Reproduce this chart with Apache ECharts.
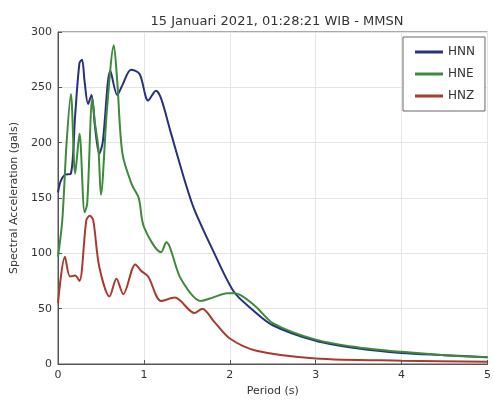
<!DOCTYPE html>
<html>
<head>
<meta charset="utf-8">
<script src="https://cdn.jsdelivr.net/npm/echarts@6/dist/echarts.min.js"></script>
<style>
  html, body { margin: 0; padding: 0; background: #fff; }
  #chart { width: 494px; height: 402px; }
</style>
</head>
<body>
<div id="chart"></div>
<script>
// period (s) / spectral acceleration (gals)
const hnnPeriod = [0, 0.03, 0.08, 0.15, 0.2, 0.25, 0.28, 0.31, 0.35, 0.39, 0.43, 0.48, 0.52, 0.61, 0.69, 0.75, 0.85, 0.95, 1.05, 1.14, 1.2, 1.31, 1.49, 1.59, 1.82, 2.05, 2.25, 2.5, 3, 3.5, 4, 4.5, 5];
const hnnValue = [155, 165, 171, 172, 225, 272, 275, 255, 235, 243, 215, 190, 200, 265, 243, 252, 266, 262, 238, 247, 240, 210, 162, 139, 100, 65, 50, 35, 21, 14, 10, 8, 6];

const hnePeriod = [0, 0.05, 0.1, 0.15, 0.2, 0.25, 0.31, 0.34, 0.4, 0.43, 0.47, 0.5, 0.57, 0.65, 0.69, 0.75, 0.86, 0.94, 1.0, 1.2, 1.26, 1.43, 1.66, 1.8, 1.97, 2.06, 2.3, 2.5, 3, 3.5, 4, 4.5, 5];
const hneValue = [97, 130, 200, 244, 172, 208, 137, 145, 240, 218, 195, 153, 230, 288, 255, 190, 162, 150, 124, 101, 110, 77, 57, 60, 64, 64, 52, 37, 22, 15, 11, 8, 6];

const hnzPeriod = [0, 0.08, 0.14, 0.2, 0.25, 0.33, 0.37, 0.41, 0.48, 0.6, 0.68, 0.76, 0.9, 0.97, 1.05, 1.2, 1.36, 1.59, 1.68, 1.82, 2.0, 2.31, 3, 4, 5];
const hnzValue = [55, 97, 79, 80, 75, 130, 134, 130, 88, 61, 77, 63, 90, 84, 79, 57, 60, 46, 50, 38, 23, 12, 5, 3, 2];

const pairs = (xs, ys) => xs.map((x, i) => [x, ys[i]]);

const series = [
    {name: 'HNN', data: pairs(hnnPeriod, hnnValue), color: '#27307f'},
    {name: 'HNE', data: pairs(hnePeriod, hneValue), color: '#3d8a3a'},
    {name: 'HNZ', data: pairs(hnzPeriod, hnzValue), color: '#a83a30'}
].map(s => ({
    name: s.name,
    type: 'line',
    data: s.data,
    smooth: 0.3,
    symbol: 'none',
    itemStyle: {color: s.color},
    lineStyle: {color: s.color, width: 2}
}));

const axisLine = {show: true, lineStyle: {color: '#555', width: 1}};
const splitLine = {show: true, lineStyle: {color: '#e4e4e4', width: 1}};
const axisTick = {show: true, inside: true, length: 4, lineStyle: {color: '#555'}};
const labelStyle = {fontSize: 11, color: '#333', margin: 6, fontFamily: 'DejaVu Sans'};
const nameStyle = {fontSize: 11, color: '#333', fontFamily: 'DejaVu Sans'};

const option = {
    animation: false,
    title: {
        text: '15 Januari 2021, 01:28:21 WIB - MMSN',
        left: 272,
        textAlign: 'center',
        top: 10,
        textStyle: {fontSize: 13, fontWeight: 'normal', color: '#333', fontFamily: 'DejaVu Sans'}
    },
    legend: {
        data: ['HNN', 'HNE', 'HNZ'],
        orient: 'vertical',
        left: 403,
        top: 37,
        padding: [9, 10, 9, 12],
        itemGap: 10,
        icon: 'rect',
        itemWidth: 28,
        itemHeight: 3,
        borderColor: '#666',
        borderWidth: 1,
        backgroundColor: '#fff',
        textStyle: {fontSize: 12, color: '#333', fontFamily: 'DejaVu Sans'}
    },
    grid: {left: 58, top: 32, width: 435, height: 337, show: true, borderColor: '#555', borderWidth: 1},
    xAxis: {
        type: 'value',
        min: 0,
        max: 5,
        interval: 1,
        name: 'Period (s)',
        nameLocation: 'middle',
        nameGap: 22,
        nameTextStyle: nameStyle,
        axisLine,
        axisTick,
        axisLabel: labelStyle,
        splitLine
    },
    yAxis: {
        type: 'value',
        min: 0,
        max: 300,
        interval: 50,
        name: 'Spectral Acceleration (gals)',
        nameLocation: 'middle',
        nameGap: 30,
        nameTextStyle: nameStyle,
        axisLine,
        axisTick,
        axisLabel: labelStyle,
        splitLine
    },
    series
};

const myChart = echarts.init(document.getElementById('chart'), null, {renderer: 'canvas'});
myChart.setOption(option);
</script>
</body>
</html>
